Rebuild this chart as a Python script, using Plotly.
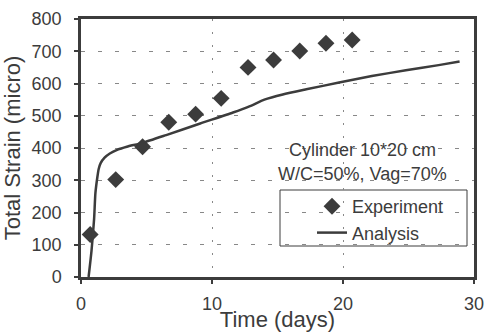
import plotly.graph_objects as go

exp_days = [0.7, 2.65, 4.7, 6.7, 8.75, 10.7, 12.75, 14.7, 16.7, 18.7, 20.7]
exp_strain = [132, 302, 404, 480, 505, 554, 650, 673, 701, 725, 735]

ana_days = [0.58, 0.8, 1.0, 1.1, 1.25, 1.35, 1.5, 1.8, 2.2, 2.8, 3.5, 4.7, 6.5, 9.1, 11.6, 12.9,
            14.0, 15.4, 17.2, 19.7, 22.2, 24.8, 27.3, 28.9]
ana_strain = [0, 80, 180, 260, 310, 335, 353, 370, 383, 395, 404, 416, 440, 476, 510, 530,
              550, 566, 582, 603, 623, 641, 657, 668]

x_ticks = [0, 10, 20, 30]
y_ticks = [0, 100, 200, 300, 400, 500, 600, 700, 800]

FONT = "Liberation Sans, Arial, sans-serif"
DARK = "#3c3c3c"
FS = 18

fig = go.Figure()
fig.add_trace(go.Scatter(x=exp_days, y=exp_strain, mode="markers", name="Experiment",
                         marker=dict(symbol="diamond", size=13, color=DARK,
                                     line=dict(width=0)),
                         legendgroup="a"))
fig.add_trace(go.Scatter(x=ana_days, y=ana_strain, mode="lines", name="Analysis",
                         line=dict(color=DARK, width=2.5, shape="spline", smoothing=0.6),
                         legendgroup="b"))

R = 11
fig.update_layout(
    width=485, height=332,
    margin=dict(l=81, r=R, t=19, b=55, autoexpand=False),
    paper_bgcolor="white", plot_bgcolor="white",
    font=dict(family=FONT, size=FS, color=DARK),
    showlegend=True,
    legend=dict(bgcolor="rgba(0,0,0,0)", borderwidth=0,
                tracegroupgap=0, font=dict(size=FS)),
    xaxis=dict(range=[0, 30], tickvals=x_ticks, showline=True, linewidth=2.5, linecolor=DARK,
               mirror=True, ticks="outside", ticklen=4, tickwidth=1.5, tickcolor=DARK,
               showgrid=True, gridcolor="#888888", gridwidth=1, griddash="2px,11px",
               zeroline=False, title=dict(text="Time (days)", standoff=0), automargin=True,
               ticklabelstandoff=5, ticklabeloverflow="allow", tickfont=dict(size=FS)),
    yaxis=dict(range=[0, 800], tickvals=y_ticks, showline=True, linewidth=2.5, linecolor=DARK,
               mirror=True, ticks="outside", ticklen=4, tickwidth=1.5, tickcolor=DARK,
               showgrid=True, gridcolor="#888888", gridwidth=1, griddash="4px,13px",
               zeroline=False, title=dict(text="Total Strain (micro)", standoff=7),
               automargin=True, ticklabelstandoff=9, ticklabeloverflow="allow",
               tickfont=dict(size=FS)),
)

# legend placement in pixels -> paper coords
pw = 485 - 81 - R
ph = 332 - 19 - 55
fig.update_layout(legend=dict(x=(312 - 81) / pw, y=(332 - 55 - 188) / ph,
                              xanchor="left", yanchor="top"))

fig.add_shape(type="rect", xref="paper", yref="paper",
              x0=(280 - 81) / pw, x1=(467 - 81) / pw,
              y0=(332 - 55 - 246) / ph, y1=(332 - 55 - 190) / ph,
              line=dict(color=DARK, width=1), fillcolor="white", layer="below")

fig.add_annotation(x=(362 - 81) / pw, y=(332 - 55 - 150) / ph, xref="paper", yref="paper",
                   xanchor="center", yanchor="middle",
                   text="Cylinder 10*20 cm", showarrow=False, font=dict(size=FS, color=DARK))
fig.add_annotation(x=(362 - 81) / pw, y=(332 - 55 - 174) / ph, xref="paper", yref="paper",
                   xanchor="center", yanchor="middle",
                   text="W/C=50%, Vag=70%", showarrow=False, font=dict(size=FS, color=DARK))

fig.write_html("out.html")
